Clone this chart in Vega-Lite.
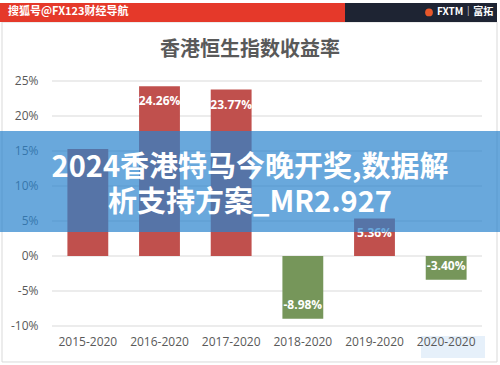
{
  "$schema": "https://vega.github.io/schema/vega-lite/v6.json",
  "width": 430,
  "height": 245,
  "autosize": "none",
  "padding": {"left": 52, "top": 81, "right": 18, "bottom": 39},
  "background": "white",
  "config": {"view": {"stroke": null}},
  "datasets": {
    "ticks": [
      {"t": -10, "s": "-10%"}, {"t": -5, "s": "-5%"}, {"t": 0, "s": "0%"}, {"t": 5, "s": "5%"},
      {"t": 10, "s": "10%"}, {"t": 15, "s": "15%"}, {"t": 20, "s": "20%"}, {"t": 25, "s": "25%"}
    ]
  },
  "data": {"values": [
    {"period": "2015-2020", "v": 15.3, "lab": ""},
    {"period": "2016-2020", "v": 24.26, "lab": "24.26%"},
    {"period": "2017-2020", "v": 23.77, "lab": "23.77%"},
    {"period": "2018-2020", "v": -8.98, "lab": "-8.98%"},
    {"period": "2019-2020", "v": 5.36, "lab": "5.36%"},
    {"period": "2020-2020", "v": -3.40, "lab": "-3.40%"}
  ]},
  "layer": [
    {
      "data": {"values": [{}]},
      "mark": {"type": "rect", "filled": false, "stroke": "#d9d9d9", "strokeWidth": 1},
      "encoding": {
        "x": {"datum": 0.004, "type": "quantitative", "scale": {"domain": [0.104, 0.964], "nice": false, "zero": false}, "axis": null},
        "x2": {"datum": 0.994},
        "y": {"datum": 33.43, "type": "quantitative", "scale": {"domain": [-10, 25], "nice": false}, "axis": null},
        "y2": {"datum": -15.14}
      }
    },
    {
      "data": {"name": "ticks"},
      "mark": {"type": "rule", "color": "#d9d9d9", "strokeWidth": 1},
      "encoding": {
        "x": {"datum": 0.104, "type": "quantitative", "scale": {"domain": [0.104, 0.964], "nice": false, "zero": false}, "axis": null},
        "x2": {"datum": 0.964},
        "y": {"field": "t", "type": "quantitative", "scale": {"domain": [-10, 25], "nice": false}, "axis": null}
      }
    },
    {
      "data": {"name": "ticks"},
      "mark": {"type": "text", "align": "right", "baseline": "middle", "color": "#595959", "font": "Open Sans", "fontSize": 12},
      "encoding": {
        "x": {"datum": 0.077, "type": "quantitative", "scale": {"domain": [0.104, 0.964], "nice": false, "zero": false}, "axis": null},
        "y": {"field": "t", "type": "quantitative", "scale": {"domain": [-10, 25], "nice": false}, "axis": null},
        "text": {"field": "s"}
      }
    },
    {
      "data": {"values": [{}]},
      "mark": {"type": "rect", "color": "#e5392a"},
      "encoding": {
        "x": {"datum": 0.0, "type": "quantitative", "scale": {"domain": [0.104, 0.964], "nice": false, "zero": false}, "axis": null},
        "x2": {"datum": 0.69},
        "y": {"datum": 36.14, "type": "quantitative", "scale": {"domain": [-10, 25], "nice": false}, "axis": null},
        "y2": {"datum": 33.43}
      }
    },
    {
      "data": {"values": [{}]},
      "mark": {"type": "rect", "color": "#1e2433"},
      "encoding": {
        "x": {"datum": 0.69, "type": "quantitative", "scale": {"domain": [0.104, 0.964], "nice": false, "zero": false}, "axis": null},
        "x2": {"datum": 0.994},
        "y": {"datum": 36.14, "type": "quantitative", "scale": {"domain": [-10, 25], "nice": false}, "axis": null},
        "y2": {"datum": 33.43}
      }
    },
    {
      "data": {"values": [{"t": "搜狐号@FX123财经导航"}]},
      "mark": {"type": "text", "align": "left", "baseline": "middle", "color": "white", "font": "Noto Sans CJK SC", "fontSize": 11, "fontWeight": "bold"},
      "encoding": {
        "x": {"datum": 0.016, "type": "quantitative", "scale": {"domain": [0.104, 0.964], "nice": false, "zero": false}, "axis": null},
        "y": {"datum": 34.79, "type": "quantitative", "scale": {"domain": [-10, 25], "nice": false}, "axis": null},
        "text": {"field": "t"}
      }
    },
    {
      "data": {"values": [{"t": "FXTM｜富拓"}]},
      "mark": {"type": "text", "align": "left", "baseline": "middle", "color": "white", "font": "Noto Sans CJK SC", "fontSize": 10, "fontWeight": "bold"},
      "encoding": {
        "x": {"datum": 0.874, "type": "quantitative", "scale": {"domain": [0.104, 0.964], "nice": false, "zero": false}, "axis": null},
        "y": {"datum": 34.79, "type": "quantitative", "scale": {"domain": [-10, 25], "nice": false}, "axis": null},
        "text": {"field": "t"}
      }
    },
    {
      "data": {"values": [{}]},
      "mark": {"type": "point", "filled": true, "color": "#e8572a", "size": 60, "opacity": 1},
      "encoding": {
        "x": {"datum": 0.858, "type": "quantitative", "scale": {"domain": [0.104, 0.964], "nice": false, "zero": false}, "axis": null},
        "y": {"datum": 34.79, "type": "quantitative", "scale": {"domain": [-10, 25], "nice": false}, "axis": null}
      }
    },
    {
      "data": {"values": [{"t": "香港恒生指数收益率"}]},
      "mark": {"type": "text", "align": "center", "baseline": "middle", "color": "#595959", "font": "Noto Sans CJK SC", "fontSize": 20, "fontWeight": "bold"},
      "encoding": {
        "x": {"datum": 0.5, "type": "quantitative", "scale": {"domain": [0.104, 0.964], "nice": false, "zero": false}, "axis": null},
        "y": {"datum": 29.43, "type": "quantitative", "scale": {"domain": [-10, 25], "nice": false}, "axis": null},
        "text": {"field": "t"}
      }
    },
    {
      "data": {"values": [{}]},
      "mark": {"type": "rect", "color": "#e6f0fa"},
      "encoding": {
        "x": {"datum": 0.842, "type": "quantitative", "scale": {"domain": [0.104, 0.964], "nice": false, "zero": false}, "axis": null},
        "x2": {"datum": 0.97},
        "y": {"datum": -11.43, "type": "quantitative", "scale": {"domain": [-10, 25], "nice": false}, "axis": null},
        "y2": {"datum": -14.57}
      }
    },
    {
      "layer": [
        {
          "mark": {"type": "bar"},
          "encoding": {
            "x": {"field": "period", "type": "nominal", "sort": null,
                  "scale": {"domain": ["2015-2020", "2016-2020", "2017-2020", "2018-2020", "2019-2020", "2020-2020"], "paddingInner": 0.43, "paddingOuter": 0.215},
                  "axis": {"orient": "bottom", "title": null, "labelAngle": 0, "ticks": false, "domain": false, "grid": false, "labelPadding": 10, "labelFont": "Open Sans", "labelFontSize": 12, "labelColor": "#595959", "zindex": 1}},
            "y": {"field": "v", "type": "quantitative", "scale": {"domain": [-10, 25], "nice": false}, "axis": null},
            "color": {"condition": {"test": "datum.v < 0", "value": "#76965a"}, "value": "#c0504d"}
          }
        },
        {
          "transform": [{"filter": "datum.v >= 0"}],
          "mark": {"type": "text", "color": "white", "font": "Open Sans", "fontSize": 12, "fontWeight": "bold", "baseline": "middle", "dy": 15},
          "encoding": {
            "x": {"field": "period", "type": "nominal", "sort": null, "scale": {"domain": ["2015-2020", "2016-2020", "2017-2020", "2018-2020", "2019-2020", "2020-2020"], "paddingInner": 0.43, "paddingOuter": 0.215}, "axis": null},
            "y": {"field": "v", "type": "quantitative", "scale": {"domain": [-10, 25], "nice": false}, "axis": null},
            "text": {"field": "lab"}
          }
        },
        {
          "transform": [{"filter": "datum.v < 0"}],
          "mark": {"type": "text", "color": "white", "font": "Open Sans", "fontSize": 12, "fontWeight": "bold", "baseline": "middle", "dy": -14},
          "encoding": {
            "x": {"field": "period", "type": "nominal", "sort": null, "scale": {"domain": ["2015-2020", "2016-2020", "2017-2020", "2018-2020", "2019-2020", "2020-2020"], "paddingInner": 0.43, "paddingOuter": 0.215}, "axis": null},
            "y": {"field": "v", "type": "quantitative", "scale": {"domain": [-10, 25], "nice": false}, "axis": null},
            "text": {"field": "lab"}
          }
        }
      ],
      "resolve": {"axis": {"x": "independent", "y": "independent"}}
    },
    {
      "data": {"values": [{}]},
      "mark": {"type": "rect", "color": "#2a83cd", "opacity": 0.7},
      "encoding": {
        "x": {"datum": 0.0, "type": "quantitative", "scale": {"domain": [0.104, 0.964], "nice": false, "zero": false}, "axis": null},
        "x2": {"datum": 1.0},
        "y": {"datum": 17.857, "type": "quantitative", "scale": {"domain": [-10, 25], "nice": false}, "axis": null},
        "y2": {"datum": 3.43}
      }
    },
    {
      "data": {"values": [{"t": "2024香港特马今晚开奖,数据解\n析支持方案_MR2.927"}]},
      "mark": {"type": "text", "align": "center", "baseline": "middle", "color": "white", "font": "Noto Sans CJK SC", "fontSize": 29, "fontWeight": "bold", "lineBreak": "\n", "lineHeight": 35},
      "encoding": {
        "x": {"datum": 0.5, "type": "quantitative", "scale": {"domain": [0.104, 0.964], "nice": false, "zero": false}, "axis": null},
        "y": {"datum": 12.6, "type": "quantitative", "scale": {"domain": [-10, 25], "nice": false}, "axis": null},
        "text": {"field": "t"}
      }
    }
  ],
  "resolve": {"scale": {"x": "independent", "y": "independent"}}
}
